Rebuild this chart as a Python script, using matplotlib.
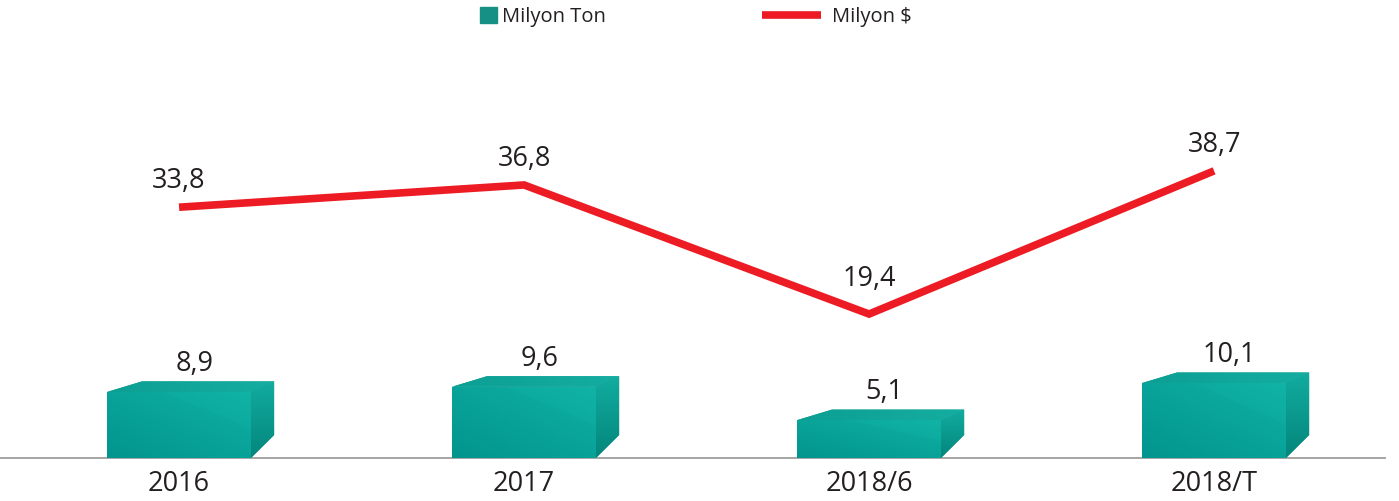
import numpy as np
import matplotlib
matplotlib.use('Agg')
import matplotlib.pyplot as plt
from matplotlib.patches import Polygon, Rectangle
from matplotlib.colors import LinearSegmentedColormap
from matplotlib.lines import Line2D

categories = ['2016', '2017', '2018/6', '2018/T']
tons = [8.9, 9.6, 5.1, 10.1]          # Milyon Ton (3d bars)
dollars = [33.8, 36.8, 19.4, 38.7]    # Milyon $ (red line)

TEAL = '#168f84'
RED = '#ed1c24'
TEXT = '#231f20'


def fmt(v):
    return f"{v:.1f}".replace('.', ',')


def gradient_fill(ax, patch, extent, arr, cmap, zorder):
    im = ax.imshow(arr, extent=extent, origin='lower', cmap=cmap, aspect='auto',
                   vmin=0, vmax=1, zorder=zorder, interpolation='bilinear')
    im.set_clip_path(patch)
    return im


plt.rcParams['font.family'] = ['Open Sans', 'DejaVu Sans']

fig = plt.figure(figsize=(13.99, 5.01), dpi=100)
ax = fig.add_axes([0, 0, 1, 1])
ax.axis('off')

x = np.arange(len(categories))
width = 0.417
# fake depth of the boxes (perspective), in data units
dxl, dxr, dy, dy_floor = 0.101, 0.067, 1.42, 3.1

front_cmap = LinearSegmentedColormap.from_list('front', ['#00918a', '#12b6a9'])
top_cmap = LinearSegmentedColormap.from_list('top', ['#08978b', '#17b0a4'])
side_cmap = LinearSegmentedColormap.from_list('side', ['#04867c', '#12aca0'])

uu, vv = np.meshgrid(np.linspace(0, 1, 200), np.linspace(0, 1, 200))
diag = 1 - (uu - 0.37) / 0.63 * 0.55
front_shade = 0.35 * uu + 0.4 * vv + 0.08 * (vv > diag) + 0.1
front_shade = np.clip(front_shade, 0, 1)
top_shade = 0.3 + 0.6 * uu
side_shade = vv

ax.axhline(0, xmin=0, xmax=0.99, color='#9e9e9e', lw=1.3, zorder=1)

bars = ax.bar(x, tons, width, color='#0a9f93', linewidth=0, zorder=2)
for bar, h in zip(bars, tons):
    x0 = bar.get_x()
    x1 = x0 + bar.get_width()
    gradient_fill(ax, bar, (x0, x1, 0, h), front_shade, front_cmap, 2.1)

    top = Polygon([(x0, h), (x0 + dxl, h + dy), (x1 + dxr, h + dy), (x1, h)],
                  closed=True, facecolor='#0c9d91', edgecolor='none', zorder=2)
    ax.add_patch(top)
    gradient_fill(ax, top, (x0, x1 + dxr, h, h + dy), top_shade, top_cmap, 2.1)

    side = Polygon([(x1, 0), (x1, h), (x1 + dxr, h + dy), (x1 + dxr, dy_floor)],
                   closed=True, facecolor='#089085', edgecolor='none', zorder=2)
    ax.add_patch(side)
    gradient_fill(ax, side, (x1, x1 + dxr, 0, h + dy), side_shade, side_cmap, 2.1)

    ax.annotate(fmt(h), (bar.get_x() + bar.get_width() / 2 + 0.045, h), xytext=(0, 15),
                textcoords='offset points', ha='center', va='baseline',
                fontsize=19.5, color=TEXT)

ax.plot(x, dollars, color=RED, lw=5.5, solid_capstyle='butt',
        solid_joinstyle='miter', zorder=5)
for i, (xi, v) in enumerate(zip(x, dollars)):
    # the label over the valley sits higher, above the sharp joint
    is_valley = 0 < i < len(dollars) - 1 and v < dollars[i - 1] and v < dollars[i + 1]
    ax.annotate(fmt(v), (xi, v), xytext=(0, 20 if is_valley else 13.5),
                textcoords='offset points', ha='center', va='baseline',
                fontsize=19.5, color=TEXT, zorder=6)

for xi, cat in zip(x, categories):
    ax.annotate(cat, (xi, 0), xytext=(0, -24), textcoords='offset points',
                ha='center', va='baseline', fontsize=19.5, color=TEXT)

ax.set_xlim(-0.519, 3.536)
ax.set_ylim(-5.80, 61.73)

# legend drawn by hand at the top
W, H = 1399, 501
fig.add_artist(Rectangle((480 / W, (H - 23) / H), 17 / W, 16 / H,
                         transform=fig.transFigure, color=TEAL))
fig.text(502 / W, (H - 22) / H, 'Milyon Ton', fontsize=14.5, color=TEXT, va='baseline')
fig.add_artist(Line2D([762 / W, 821 / W], [(H - 14.5) / H] * 2,
                      transform=fig.transFigure, lw=5.5, color=RED, solid_capstyle='butt'))
fig.text(832 / W, (H - 22) / H, 'Milyon $', fontsize=14.5, color=TEXT, va='baseline')

fig.savefig('out.png', dpi=100)
